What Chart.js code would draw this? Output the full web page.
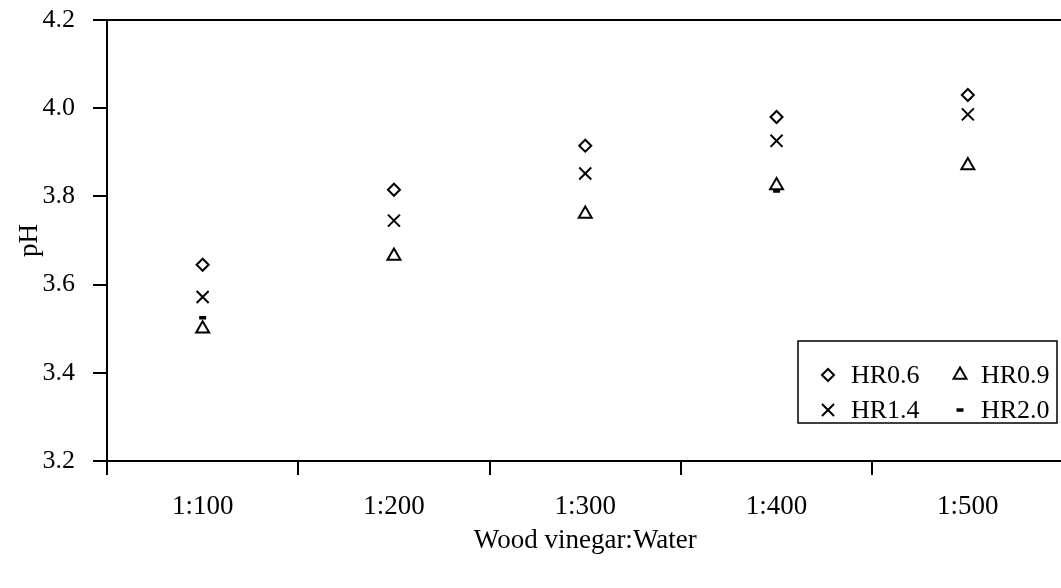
<!DOCTYPE html>
<html>
<head>
<meta charset="utf-8">
<script src="https://cdn.jsdelivr.net/npm/chart.js@4/dist/chart.umd.min.js"></script>
<style>
  html, body { margin: 0; padding: 0; background: #fff; overflow: hidden; }
  #wrap { position: relative; width: 1074px; height: 588px; }
</style>
</head>
<body>
<div id="wrap"><canvas id="c"></canvas></div>
<script>
const categories = ['1:100', '1:200', '1:300', '1:400', '1:500'];
const hr06 = [3.645, 3.815, 3.915, 3.980, 4.030];
const hr09 = [3.500, 3.665, 3.760, 3.825, 3.870];
const hr14 = [3.572, 3.745, 3.852, 3.926, 3.986];
const hr20 = [3.525, 3.660, 3.755, 3.812, 3.864];
const yTicks = [3.2, 3.4, 3.6, 3.8, 4.0, 4.2];

const FONT = 'Liberation Serif, Times New Roman, serif';

const legendPlugin = {
  id: 'boxLegend',
  afterDraw(chart) {
    const ctx = chart.ctx;
    ctx.save();
    ctx.strokeStyle = '#000';
    ctx.lineWidth = 1.5;
    ctx.strokeRect(798, 341, 259, 82);
    const pos = [
      {ds: 0, mx: 828, tx: 851, y: 375},
      {ds: 1, mx: 960, tx: 981, y: 375},
      {ds: 2, mx: 828, tx: 851, y: 410},
      {ds: 3, mx: 960, tx: 981, y: 410}
    ];
    ctx.font = '26px ' + FONT;
    ctx.fillStyle = '#000';
    ctx.textBaseline = 'middle';
    ctx.textAlign = 'left';
    pos.forEach(p => {
      const d = chart.data.datasets[p.ds];
      const opts = {
        pointStyle: d.pointStyle, radius: d.pointRadius, rotation: 0,
        borderWidth: d.pointBorderWidth
      };
      ctx.save();
      ctx.strokeStyle = '#000';
      ctx.fillStyle = '#fff';
      ctx.lineWidth = d.pointBorderWidth;
      Chart.helpers.drawPoint(ctx, opts, p.mx, p.y);
      ctx.restore();
      ctx.fillText(d.label, p.tx, p.y + 1);
    });
    ctx.restore();
  }
};

function ds(label, data, style, radius, bw) {
  return {
    label, data, showLine: false,
    pointStyle: style, pointRadius: radius, pointHoverRadius: radius,
    pointBorderWidth: bw, pointBorderColor: '#000', pointBackgroundColor: '#fff',
    borderColor: '#000', backgroundColor: '#fff'
  };
}

new Chart(document.getElementById('c'), {
  type: 'line',
  data: {
    labels: categories,
    datasets: [
      ds('HR0.6', hr06, 'rectRot', 6, 2),
      ds('HR0.9', hr09, 'triangle', 7.5, 2),
      ds('HR1.4', hr14, 'crossRot', 8.5, 2),
      ds('HR2.0', hr20, 'line', 3.5, 3.5)
    ]
  },
  options: {
    responsive: true,
    maintainAspectRatio: false,
    animation: false,
    events: [],
    layout: { padding: { left: 0, right: 0, top: 20, bottom: 0 } },
    plugins: { legend: { display: false }, tooltip: { enabled: false } },
    scales: {
      x: {
        type: 'category',
        offset: true,
        grid: { offset: true, drawOnChartArea: false, drawTicks: true, tickLength: 14, tickColor: '#000', tickWidth: 2, lineWidth: 2, color: '#000' },
        border: { display: true, color: '#000', width: 2 },
        ticks: { color: '#000', font: { family: FONT, size: 27 }, padding: 16, maxRotation: 0 },
        title: { display: true, text: 'Wood vinegar:Water', color: '#000', font: { family: FONT, size: 27 }, padding: { top: 0, bottom: 31 } },
        afterFit(s) { s.height = 127; s.paddingLeft = 0; s.paddingRight = 0; }
      },
      y: {
        min: 3.2, max: 4.2,
        afterBuildTicks(s) { s.ticks = yTicks.map(v => ({ value: v })); },
        grid: {
          drawOnChartArea: true, drawTicks: true, tickLength: 14, tickColor: '#000', tickWidth: 2,
          color: c => (c.tick && Math.abs(c.tick.value - 4.2) < 1e-6) ? '#000' : 'rgba(0,0,0,0)',
          lineWidth: 2
        },
        border: { display: true, color: '#000', width: 2 },
        ticks: { color: '#000', font: { family: FONT, size: 26 }, padding: 18, callback: v => Number(v).toFixed(1) },
        title: { display: true, text: 'pH', color: '#000', font: { family: FONT, size: 27 }, padding: { top: 14, bottom: 0 } },
        afterFit(s) { s.width = 107; s.paddingTop = 0; s.paddingBottom = 0; }
      }
    }
  },
  plugins: [legendPlugin]
});
</script>
</body>
</html>
